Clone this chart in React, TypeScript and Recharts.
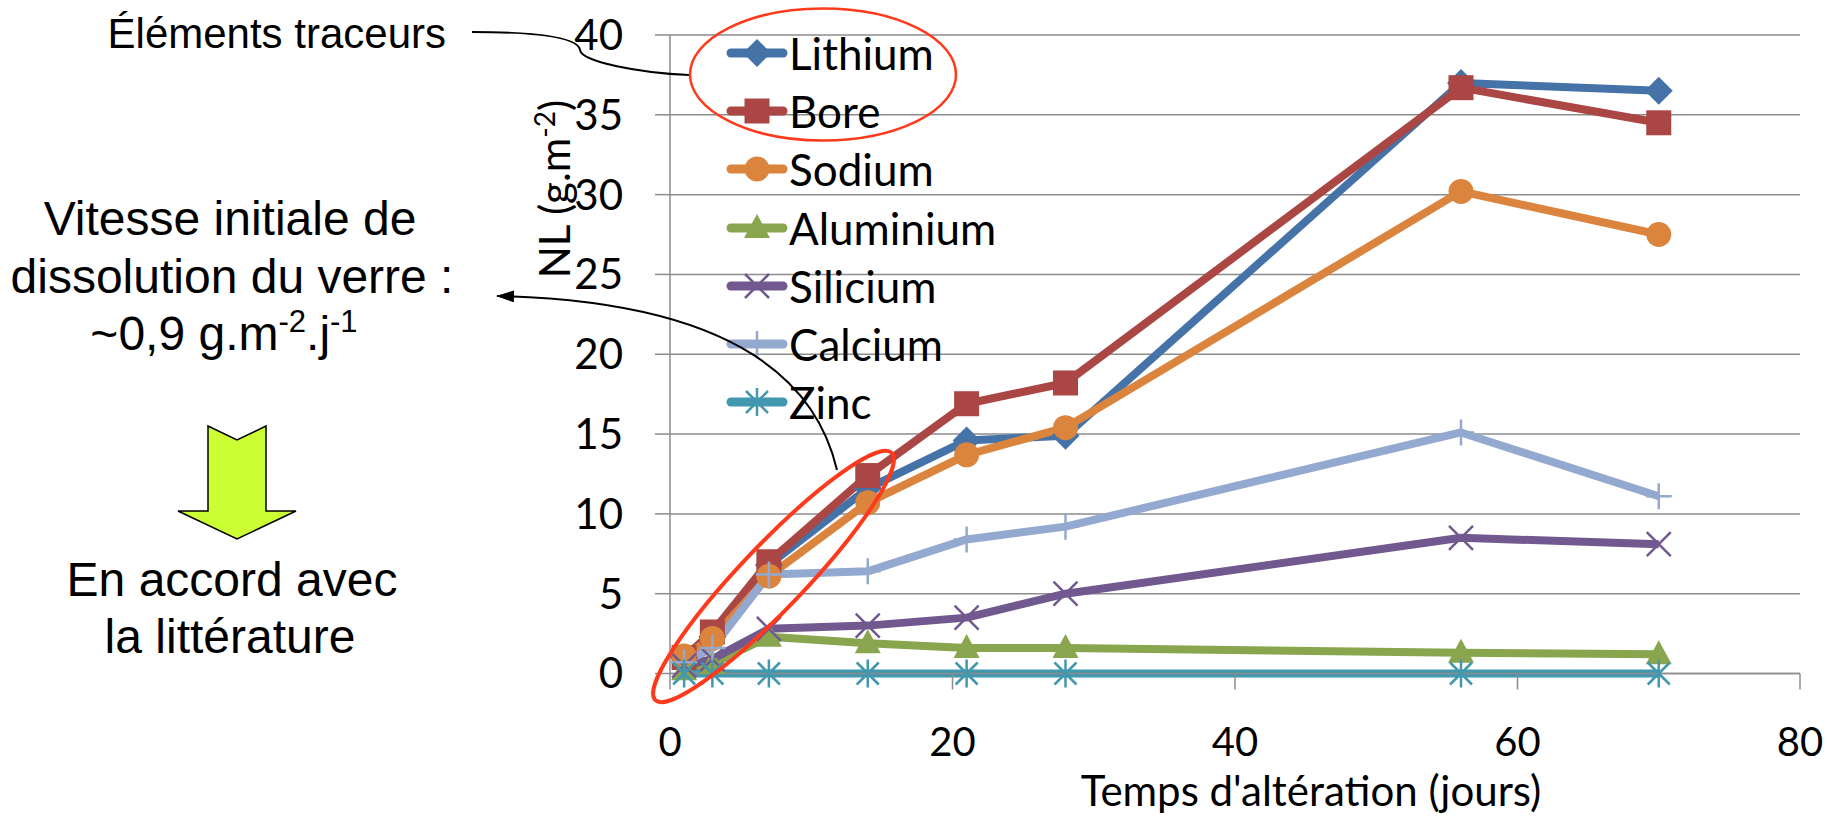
import React from "react";
import { LineChart, Line, XAxis, YAxis, CartesianGrid, Legend } from "recharts";

// days of alteration
const days = [1, 3, 7, 14, 21, 28, 56, 70];

// NL (g.m-2) per element
const lithium = [1.0, 2.3, 6.8, 11.6, 14.6, 14.9, 37.0, 36.5];
const bore = [1.0, 2.6, 7.0, 12.4, 16.9, 18.2, 36.7, 34.5];
const sodium = [1.1, 2.2, 6.1, 10.7, 13.7, 15.4, 30.2, 27.5];
const aluminium = [0.2, 0.6, 2.3, 1.9, 1.6, 1.6, 1.3, 1.2];
const silicium = [0.5, 0.9, 2.8, 3.0, 3.5, 5.0, 8.5, 8.1];
const calcium = [0.7, 1.6, 6.2, 6.4, 8.4, 9.2, 15.1, 11.1];
const zinc = [0, 0, 0, 0, 0, 0, 0, 0];

const yTicks = [0, 5, 10, 15, 20, 25, 30, 35, 40];
const xTicks = [0, 20, 40, 60, 80];

type Shape = "diamond" | "square" | "circle" | "triangle" | "x" | "plus" | "star";

const SERIES: { key: string; values: number[]; color: string; shape: Shape }[] = [
  { key: "Lithium", values: lithium, color: "#4572A7", shape: "diamond" },
  { key: "Bore", values: bore, color: "#AA4643", shape: "square" },
  { key: "Sodium", values: sodium, color: "#DB843D", shape: "circle" },
  { key: "Aluminium", values: aluminium, color: "#89A54E", shape: "triangle" },
  { key: "Silicium", values: silicium, color: "#71588F", shape: "x" },
  { key: "Calcium", values: calcium, color: "#93A9CF", shape: "plus" },
  { key: "Zinc", values: zinc, color: "#4198AF", shape: "star" },
];

const rows = days.map((d, i) => {
  const r: Record<string, number> = { day: d };
  SERIES.forEach((s) => (r[s.key] = s.values[i]));
  return r;
});

const FONT = "Lato, 'Open Sans', sans-serif";
const NOTE_FONT = "'Liberation Sans', Arial, sans-serif";
const GRID = "#8C8C8C";
const RED = "#FF3A1C";

function Marker({ shape, color, cx, cy }: { shape: Shape; color: string; cx: number; cy: number }) {
  const s = 12.5;
  switch (shape) {
    case "diamond":
      return <path d={`M${cx} ${cy - 14}L${cx + 14} ${cy}L${cx} ${cy + 14}L${cx - 14} ${cy}Z`} fill={color} />;
    case "square":
      return <rect x={cx - s} y={cy - s} width={2 * s} height={2 * s} fill={color} />;
    case "circle":
      return <circle cx={cx} cy={cy} r={12.5} fill={color} />;
    case "triangle":
      return <path d={`M${cx} ${cy - 14}L${cx + 13} ${cy + 10}L${cx - 13} ${cy + 10}Z`} fill={color} />;
    case "x":
      return (
        <path
          d={`M${cx - 12} ${cy - 12}L${cx + 12} ${cy + 12}M${cx + 12} ${cy - 12}L${cx - 12} ${cy + 12}`}
          stroke={color}
          strokeWidth={2.5}
        />
      );
    case "plus":
      return (
        <path d={`M${cx} ${cy - 13}L${cx} ${cy + 13}M${cx - 13} ${cy}L${cx + 13} ${cy}`} stroke={color} strokeWidth={2.5} />
      );
    case "star":
      return (
        <path
          d={`M${cx - 11} ${cy - 11}L${cx + 11} ${cy + 11}M${cx + 11} ${cy - 11}L${cx - 11} ${cy + 11}M${cx} ${cy - 14}L${cx} ${cy + 14}`}
          stroke={color}
          strokeWidth={2.5}
        />
      );
  }
}

function ElementLegend() {
  return (
    <div style={{ fontFamily: FONT }}>
      {SERIES.map((s) => (
        <div key={s.key} style={{ display: "flex", alignItems: "center", height: 58.2 }}>
          <svg width={62} height={58}>
            <line x1={5} y1={29} x2={57} y2={29} stroke={s.color} strokeWidth={9} strokeLinecap="round" />
            <Marker shape={s.shape} color={s.color} cx={31} cy={29} />
          </svg>
          <span style={{ fontSize: 44, color: "#000", lineHeight: "58px", marginLeft: 1 }}>{s.key}</span>
        </div>
      ))}
    </div>
  );
}

function YTitle() {
  return (
    <text transform="translate(570,189) rotate(-90)" textAnchor="middle" fontFamily={FONT} fontSize={42} fill="#000">
      NL (g.m<tspan dy={-15} fontSize={28}>-2</tspan>
      <tspan dy={15}>)</tspan>
    </text>
  );
}

function Notes() {
  return (
    <svg
      width={1827}
      height={817}
      style={{ position: "absolute", left: 0, top: 0, pointerEvents: "none" }}
    >
      <defs>
        <marker id="ah" markerUnits="userSpaceOnUse" markerWidth={18} markerHeight={12} refX={17} refY={6} orient="auto">
          <path d="M0 0L18 6L0 12Z" fill="#000" />
        </marker>
      </defs>
      <g fontFamily={NOTE_FONT} fill="#000">
        <text x={446} y={48} fontSize={42} textAnchor="end">Éléments traceurs</text>
        <text x={230} y={235} fontSize={48} textAnchor="middle">Vitesse initiale de</text>
        <text x={232} y={293} fontSize={48} textAnchor="middle">dissolution du verre :</text>
        <text x={224} y={350} fontSize={48} textAnchor="middle">
          ~0,9 g.m<tspan dy={-18} fontSize={31}>-2</tspan>
          <tspan dy={18}>.j</tspan>
          <tspan dy={-18} fontSize={31}>-1</tspan>
        </text>
        <text x={232} y={596} fontSize={48} textAnchor="middle">En accord avec</text>
        <text x={230} y={653} fontSize={48} textAnchor="middle">la littérature</text>
      </g>
      <path
        d="M208 426L237 440L266 426L266 511L296 511L237 539L178 511L208 511Z"
        fill="#CCFF33"
        stroke="#000"
        strokeWidth={1.5}
      />
      <path d="M472 32C540 32 578 38 580 50C582 62 640 73 689 75" fill="none" stroke="#000" strokeWidth={2} />
      <path d="M837 470Q798 303 497 296" fill="none" stroke="#000" strokeWidth={2} markerEnd="url(#ah)" />
      <ellipse cx={823} cy={74.5} rx={133} ry={66} fill="none" stroke={RED} strokeWidth={2.5} />
      <ellipse
        cx={773.5}
        cy={576.5}
        rx={171}
        ry={32}
        transform="rotate(-46.3 773.5 576.5)"
        fill="none"
        stroke={RED}
        strokeWidth={4}
      />
    </svg>
  );
}

export default function App() {
  return (
    <div style={{ position: "absolute", left: 0, top: 0, width: 1827, height: 817, background: "#fff" }}>
      <LineChart width={1827} height={817} data={rows} margin={{ top: 35, right: 27, bottom: 0, left: 0 }}>
        <CartesianGrid vertical={false} stroke={GRID} strokeWidth={1.5} />
        <XAxis
          dataKey="day"
          type="number"
          domain={[0, 80]}
          ticks={xTicks}
          height={143.5}
          tickSize={16}
          tickMargin={38}
          axisLine={{ stroke: GRID, strokeWidth: 1.5 }}
          tickLine={{ stroke: GRID, strokeWidth: 1.5 }}
          tick={{ fontFamily: FONT, fontSize: 40, fill: "#000" }}
          label={{
            content: (p: any) => {
              const vb = p.viewBox;
              return (
                <text
                  x={vb.x + vb.width / 2 + 76}
                  y={vb.y + vb.height - 11}
                  textAnchor="middle"
                  fontFamily={FONT}
                  fontSize={42}
                  fill="#000"
                >
                  Temps d'altération (jours)
                </text>
              );
            },
          }}
        />
        <YAxis
          type="number"
          domain={[0, 40]}
          ticks={yTicks}
          width={670}
          tickSize={15}
          tickMargin={32}
          axisLine={{ stroke: GRID, strokeWidth: 1.5 }}
          tickLine={{ stroke: GRID, strokeWidth: 1.5 }}
          tick={{ fontFamily: FONT, fontSize: 42, fill: "#000" }}
          label={<YTitle />}
        />
        <Legend
          layout="vertical"
          align="center"
          verticalAlign="middle"
          content={() => <ElementLegend />}
          wrapperStyle={{ left: 726, top: 24, width: "auto" }}
        />
        {SERIES.map((s) => (
          <Line
            key={s.key}
            type="linear"
            dataKey={s.key}
            stroke={s.color}
            strokeWidth={8}
            strokeLinejoin="round"
            isAnimationActive={false}
            legendType="none"
            dot={(p: any) => <Marker key={`${s.key}-${p.index}`} shape={s.shape} color={s.color} cx={p.cx} cy={p.cy} />}
            activeDot={false}
          />
        ))}
      </LineChart>
      <Notes />
    </div>
  );
}
